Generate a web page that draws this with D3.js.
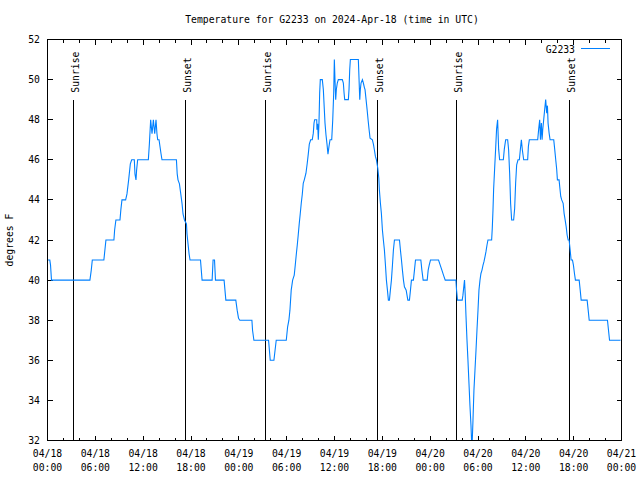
<!DOCTYPE html>
<html><head><meta charset="utf-8">
<script src="https://cdn.jsdelivr.net/npm/d3@7"></script>
<style>
body{margin:0;background:#fff}
svg{display:block}
text{font-family:"DejaVu Sans Mono","Liberation Mono",monospace;font-size:9.75px;fill:#000}
</style>
</head><body>
<svg id="chart" width="640" height="480"></svg>
<script>
// ---------------- data ----------------
const chartTitle = "Temperature for G2233 on 2024-Apr-18 (time in UTC)";
const seriesName = "G2233";
const yAxisLabel = "degrees F";
const startUTC = Date.UTC(2024, 3, 18, 0, 0);
const spanHours = 72;
const yDomain = [32, 52];
const yTickValues = [32, 34, 36, 38, 40, 42, 44, 46, 48, 50, 52];

const sunEventNames = ["Sunrise", "Sunset", "Sunrise", "Sunset", "Sunrise", "Sunset"];
const sunEventHours = [3.32, 17.33, 27.30, 41.40, 51.27, 65.47];
const sunEventTop = 49;

// hours since 2024-04-18 00:00 UTC
const hoursSinceStart = [
  0,0.29,0.38,0.50,5.32,5.49,5.62,7.07,7.33,8.33,
  8.42,8.58,9.09,9.20,9.34,9.80,9.97,10.18,10.39,10.56,
  10.89,10.97,11.10,11.18,11.31,12.65,12.78,12.94,13.11,13.28,
  13.45,13.61,13.73,13.82,13.99,14.24,14.36,16.17,16.27,16.37,
  16.55,16.75,16.88,17.00,17.18,17.43,17.50,17.63,17.76,17.88,
  19.19,19.39,20.65,20.77,20.95,21.07,22.15,22.37,23.62,23.79,
  23.96,24.13,25.64,25.72,25.89,27.73,27.94,28.40,28.69,29.95,
  30.12,30.28,30.41,30.57,30.75,30.95,31.08,31.20,31.33,31.45,
  31.58,31.70,31.83,31.96,32.08,32.21,32.42,32.58,32.71,32.84,
  33.01,33.21,33.34,33.43,33.51,33.77,33.80,33.89,33.97,34.05,
  34.14,34.22,34.47,34.60,34.72,34.81,34.93,35.06,35.18,35.31,
  35.44,35.65,35.78,35.90,35.98,36.06,36.15,36.23,36.35,36.48,
  36.98,37.11,37.20,37.28,37.74,37.82,37.91,37.99,38.99,39.08,
  39.17,39.24,39.33,39.50,39.62,39.75,39.83,39.96,40.09,40.21,
  40.34,40.46,40.75,40.88,41.00,41.13,41.26,41.43,41.56,41.63,
  41.76,41.88,42.01,42.13,42.26,42.39,42.51,42.64,42.76,42.89,
  43.01,43.14,43.27,43.39,43.52,44.15,44.27,44.40,44.52,44.65,
  44.77,44.99,45.20,45.40,45.53,45.65,45.90,46.03,46.16,46.83,
  46.96,47.12,47.63,47.75,47.88,48.04,49.05,49.26,49.47,49.67,
  49.89,51.23,51.31,51.43,52.02,52.11,52.24,52.31,52.40,52.49,
  52.61,52.74,52.87,52.99,53.12,53.19,53.28,53.37,53.49,53.62,
  53.75,53.87,54.00,54.12,54.25,54.37,54.50,54.63,54.75,54.88,
  55.00,55.13,55.25,55.71,55.79,55.88,55.96,56.08,56.21,56.33,
  56.46,56.59,56.71,57.18,57.30,57.47,57.72,57.84,57.97,58.09,
  58.22,58.47,58.60,58.72,58.85,59.02,59.19,59.31,59.44,59.56,
  59.73,60.23,60.32,60.44,61.49,61.61,61.74,61.83,61.95,62.04,
  62.12,62.24,62.37,62.49,62.62,62.71,62.79,62.92,63.04,63.50,
  63.62,63.75,63.87,63.96,64.17,64.25,64.38,64.50,64.68,64.80,
  64.93,65.06,65.18,65.31,65.43,65.56,65.68,65.85,65.97,66.10,
  66.22,66.69,66.82,66.94,67.69,67.82,67.95,70.24,70.37,70.50,71.88
];
const tempF = [
  41,41,40.75,40,40,40.5,41,41,42,42,
  42.5,43,43,43.5,44,44,44.3,45,45.8,46,
  46,45.3,45,45.5,46,46,46.8,48,47.3,48,
  47.3,48,47.3,47,47,46.3,46,46,45.3,45,
  44.8,44.2,43.8,43.3,43,42.8,42.3,41.8,41.3,41,
  41,40,40,41,41,40,40,39,39,38.5,
  38.1,38,38,37.5,37,37,36,36,37,37,
  37.67,38,38.5,39.5,40,40.25,40.75,41.25,41.75,42.25,
  42.83,43.3,43.83,44.28,44.83,45,45.33,45.83,46.28,46.78,
  47,47,47.33,47.83,48,48,47.5,47.8,47,47.8,
  49.33,50,50,49.5,48.53,47.83,47.25,46.78,46.28,46.67,
  47,47,48,49.33,51,50,49,49.5,49.83,50,
  50,49.83,49.33,49,49,49.5,50.5,51,51,50,
  49,49.5,49.83,50,49.83,49.6,49.5,49,48.5,48,
  47.5,47.08,47,46.78,46.5,46.17,46,45.58,45.08,44.5,
  43.83,43.33,42.5,42,41.5,40.75,40,39.5,39,39,
  39.5,40,40.75,41.5,42,42,41.5,41,40.5,40,
  39.67,39.5,39,39,39.5,40,40,40.5,41,41,
  40.5,40,40,40.5,40.75,41,41,40.75,40.5,40.25,
  40,40,39.5,39,39,39.25,39.75,40,39.25,38.25,
  37.08,36,34.83,33.75,32.75,32,32,33,34.5,35.5,
  36.5,37.5,38.5,39.5,40,40.33,40.5,40.75,40.92,41.17,
  41.42,41.75,42,42,42.58,43.5,44.53,45.5,46.53,47.53,
  48,46.53,46,46,46.53,47,47,46.5,45.33,43.83,
  43,43,43.58,44.83,45.75,46,46,46.5,47,46.5,
  46,46,46.67,47,47,47.53,48,47,47.83,47,
  47.5,48,48.53,49,48.33,48.7,47.83,47.33,47,47,
  46.53,46,45.53,45,45,44.67,44.17,44,43.83,43.33,
  43,42.67,42.25,42,42,41.5,41,41,40.75,40.33,
  40,40,39.5,39,39,38.5,38,38,37.5,37,37
];

// ---------------- chart ----------------
(function () {
const svg = d3.select("#chart");
const pl = 47.5, pr = 621.5, pt = 39.5, pb = 440.5;
const lineColor = "#0080ff";
const toDate = h => new Date(startUTC + h * 3600e3);

const x = d3.scaleUtc().domain([toDate(0), toDate(spanHours)]).range([pl, pr]);
const y = d3.scaleLinear().domain(yDomain).range([pb, pt]);

const points = hoursSinceStart.map((h, i) => ({t: toDate(h), v: tempF[i]}));

// title
svg.append("text").attr("x", 332).attr("y", 22.5).attr("text-anchor", "middle").text(chartTitle);

// y label
svg.append("text").attr("transform", "translate(13,240) rotate(-90)")
  .attr("text-anchor", "middle").text(yAxisLabel);

const g = svg.append("g");
const majorX = x.ticks(d3.utcHour.every(6));
const minorX = x.ticks(d3.utcHour.every(2));

// ticks (mirrored)
const tickG = g.append("g").attr("stroke", "#000").attr("stroke-width", 1).attr("shape-rendering", "crispEdges");
minorX.forEach(d => {
  const isMajor = d.getUTCHours() % 6 === 0;
  const len = isMajor ? 5 : 3;
  const xx = Math.round(x(d) - 0.5) + 0.5;
  tickG.append("line").attr("x1", xx).attr("x2", xx).attr("y1", pb).attr("y2", pb - len);
  tickG.append("line").attr("x1", xx).attr("x2", xx).attr("y1", pt).attr("y2", pt + len);
});
yTickValues.forEach(v => {
  const yy = Math.round(y(v) - 0.5) + 0.5;
  tickG.append("line").attr("x1", pl).attr("x2", pl + 5).attr("y1", yy).attr("y2", yy);
  tickG.append("line").attr("x1", pr).attr("x2", pr - 5).attr("y1", yy).attr("y2", yy);
});

// y tick labels
g.append("g").selectAll("text").data(yTickValues).join("text")
  .attr("x", 40).attr("y", d => y(d) + 3.5).attr("text-anchor", "end").text(d => d);

// x tick labels
const fmtDay = d3.utcFormat("%m/%d"), fmtTime = d3.utcFormat("%H:%M");
const xl = g.append("g").selectAll("text").data(majorX).join("text")
  .attr("text-anchor", "middle");
xl.append("tspan").attr("x", d => x(d)).attr("y", 457).text(d => fmtDay(d));
xl.append("tspan").attr("x", d => x(d)).attr("y", 471).text(d => fmtTime(d));

// sunrise / sunset lines
const ev = g.append("g");
sunEventHours.forEach((h, i) => {
  const xx = Math.round(x(toDate(h)) - 0.5) + 0.5;
  ev.append("line").attr("x1", xx).attr("x2", xx).attr("y1", y(sunEventTop)).attr("y2", pb)
    .attr("stroke", "#000").attr("stroke-width", 1).attr("shape-rendering", "crispEdges");
  ev.append("text").attr("transform", `translate(${xx + 5},${y(sunEventTop) - 7}) rotate(-90)`)
    .attr("text-anchor", "start").text(sunEventNames[i]);
});

// data line
g.append("path").datum(points)
  .attr("fill", "none").attr("stroke", lineColor).attr("stroke-width", 1.1)
  .attr("d", d3.line().x(d => x(d.t)).y(d => y(d.v)));

// frame
g.append("rect").attr("x", pl).attr("y", pt).attr("width", pr - pl).attr("height", pb - pt)
  .attr("fill", "none").attr("stroke", "#000").attr("stroke-width", 1).attr("shape-rendering", "crispEdges");

// legend
svg.append("text").attr("x", 575).attr("y", 53).attr("text-anchor", "end").text(seriesName);
svg.append("line").attr("x1", 581).attr("x2", 610).attr("y1", 48.5).attr("y2", 48.5)
  .attr("stroke", lineColor).attr("stroke-width", 1);
})();
</script>
</body></html>
